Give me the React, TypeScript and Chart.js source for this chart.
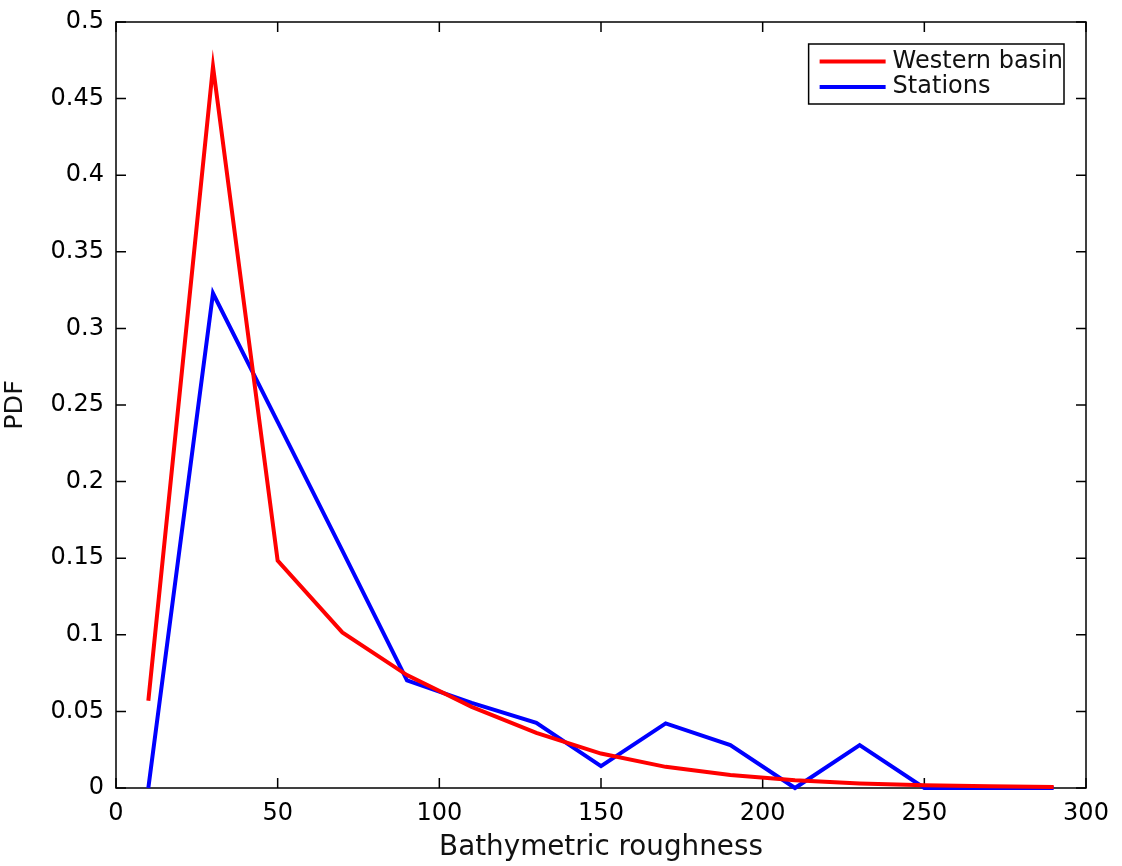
import React, { useEffect, useRef } from "react";
import { Chart, registerables } from "chart.js";

Chart.register(...registerables);

const roughness = [10, 30, 50, 70, 90, 110, 130, 150, 170, 190, 210, 230, 250, 270, 290];
const westernBasin = [0.057, 0.471, 0.1484, 0.1016, 0.0737, 0.053, 0.036, 0.0225, 0.0138, 0.0085, 0.005, 0.003, 0.0018, 0.0012, 0.0007];
const stations = [0, 0.3229, 0.239, 0.155, 0.0703, 0.0555, 0.0426, 0.0143, 0.0422, 0.028, 0, 0.028, 0, 0, 0];
const xTickValues = [0, 50, 100, 150, 200, 250, 300];
const yTickValues = [0, 0.05, 0.1, 0.15, 0.2, 0.25, 0.3, 0.35, 0.4, 0.45, 0.5];
const seriesLabels = ["Western basin", "Stations"];
const seriesColors = ["#ff0000", "#0000ff"];
const xTitle = "Bathymetric roughness";
const yTitle = "PDF";

const FONT = "'DejaVu Sans', sans-serif";

const framePlugin = {
  id: "frameTicks",
  beforeDatasetsDraw(chart: any) {
    const { ctx, chartArea, scales } = chart;
    const { left, right, top, bottom } = chartArea;
    const L = 10;
    ctx.save();
    ctx.strokeStyle = "#000";
    ctx.lineWidth = 1.5;
    ctx.strokeRect(left, top, right - left, bottom - top);
    ctx.beginPath();
    scales.x.ticks.forEach((t: any) => {
      const px = scales.x.getPixelForValue(t.value);
      ctx.moveTo(px, bottom);
      ctx.lineTo(px, bottom - L);
      ctx.moveTo(px, top);
      ctx.lineTo(px, top + L);
    });
    scales.y.ticks.forEach((t: any) => {
      const py = scales.y.getPixelForValue(t.value);
      ctx.moveTo(left, py);
      ctx.lineTo(left + L, py);
      ctx.moveTo(right, py);
      ctx.lineTo(right - L, py);
    });
    ctx.stroke();
    ctx.restore();
  },
};

const legendPlugin = {
  id: "boxLegend",
  afterDraw(chart: any) {
    const { ctx, chartArea } = chart;
    const fontSize = 24;
    ctx.save();
    ctx.font = `${fontSize}px ${FONT}`;
    const textW = Math.max(...seriesLabels.map((s) => ctx.measureText(s).width));
    const padL = 11;
    const lineLen = 66;
    const gap = 7;
    const padR = 1;
    const boxW = padL + lineLen + gap + textW + padR;
    const boxH = 60;
    const boxRight = chartArea.right - 22;
    const boxTop = chartArea.top + 22;
    const boxLeft = boxRight - boxW;
    ctx.fillStyle = "#fff";
    ctx.fillRect(boxLeft, boxTop, boxW, boxH);
    ctx.strokeStyle = "#000";
    ctx.lineWidth = 1.5;
    ctx.strokeRect(boxLeft, boxTop, boxW, boxH);
    const rows = [17.5, 43];
    seriesLabels.forEach((label, i) => {
      const cy = boxTop + rows[i];
      ctx.strokeStyle = seriesColors[i];
      ctx.lineWidth = 4;
      ctx.beginPath();
      ctx.moveTo(boxLeft + padL, cy);
      ctx.lineTo(boxLeft + padL + lineLen, cy);
      ctx.stroke();
      ctx.fillStyle = "#111";
      ctx.textBaseline = "middle";
      ctx.textAlign = "left";
      ctx.fillText(label, boxLeft + padL + lineLen + gap, cy);
    });
    ctx.restore();
  },
};

function fmt(v: number) {
  return String(parseFloat(v.toFixed(2)));
}

export default function App() {
  const canvasRef = useRef<HTMLCanvasElement | null>(null);

  useEffect(() => {
    document.body.style.margin = "0";
    const canvas = canvasRef.current;
    if (!canvas) return;
    const chart = new Chart(canvas, {
      type: "line",
      data: {
        datasets: [
          {
            label: seriesLabels[0],
            data: roughness.map((x, i) => ({ x, y: westernBasin[i] })),
            borderColor: seriesColors[0],
            backgroundColor: seriesColors[0],
            borderWidth: 4,
            pointRadius: 0,
            tension: 0,
            clip: 6,
          } as any,
          {
            label: seriesLabels[1],
            data: roughness.map((x, i) => ({ x, y: stations[i] })),
            borderColor: seriesColors[1],
            backgroundColor: seriesColors[1],
            borderWidth: 4,
            pointRadius: 0,
            tension: 0,
            clip: 6,
          } as any,
        ],
      },
      options: {
        animation: false,
        responsive: false,
        devicePixelRatio: 1,
        layout: { padding: { left: 0, top: 22, right: 36, bottom: 0 } },
        plugins: {
          legend: { display: false },
          tooltip: { enabled: false },
        },
        scales: {
          x: {
            type: "linear",
            min: 0,
            max: 300,
            afterBuildTicks: (scale: any) => {
              scale.ticks = xTickValues.map((value) => ({ value }));
            },
            afterFit: (scale: any) => {
              scale.height = 78;
              scale.paddingLeft = 0;
              scale.paddingRight = 0;
            },
            grid: { display: false, drawTicks: false },
            border: { display: false },
            ticks: {
              padding: 11,
              color: "#000",
              font: { family: FONT, size: 24 },
              callback: (v: any) => fmt(Number(v)),
              maxRotation: 0,
              autoSkip: false,
            },
            title: {
              display: true,
              text: xTitle,
              color: "#111",
              font: { family: FONT, size: 27.8 },
              padding: { top: 0, bottom: 2 },
            },
          },
          y: {
            type: "linear",
            min: 0,
            max: 0.5,
            afterBuildTicks: (scale: any) => {
              scale.ticks = yTickValues.map((value) => ({ value }));
            },
            afterFit: (scale: any) => {
              scale.width = 116;
              scale.paddingTop = 0;
              scale.paddingBottom = 0;
            },
            grid: { display: false, drawTicks: false },
            border: { display: false },
            ticks: {
              padding: 12,
              color: "#000",
              font: { family: FONT, size: 24 },
              callback: (v: any) => fmt(Number(v)),
              autoSkip: false,
            },
            title: {
              display: true,
              text: yTitle,
              color: "#111",
              font: { family: FONT, size: 25.5 },
              padding: { top: 0, bottom: 9 },
            },
          },
        },
      },
      plugins: [framePlugin, legendPlugin],
    });
    return () => chart.destroy();
  }, []);

  return (
    <div style={{ width: 1122, height: 866, background: "#fff" }}>
      <canvas ref={canvasRef} width={1122} height={866} style={{ display: "block", width: 1122, height: 866 }} />
    </div>
  );
}
